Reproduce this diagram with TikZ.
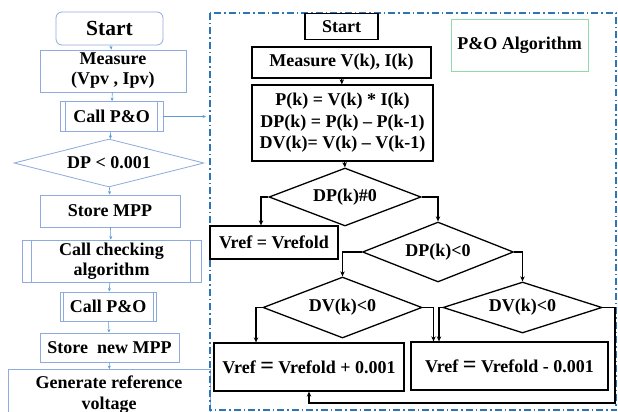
\documentclass[tikz,border=0pt]{standalone}
\usepackage{fontspec}
\setmainfont{Liberation Serif}
\usetikzlibrary{shapes.geometric,arrows.meta}
\definecolor{lblue}{HTML}{8FAADC}
\definecolor{ablue}{HTML}{5B9BD5}
\definecolor{bblue}{HTML}{2E75B6}
\definecolor{lgreen}{HTML}{92D8A8}
\tikzset{
  lbox/.style={draw=lblue, line width=0.8pt, inner sep=0pt, align=center,
    font=\bfseries\fontsize{18}{20}\selectfont},
  larrow/.style={draw=ablue, line width=0.6pt, -{Stealth[length=3.5pt,width=3pt]}},
  rbox/.style={draw=black, line width=1.3pt, inner sep=0pt, align=center,
    font=\bfseries\fontsize{18}{21.5}\selectfont},
  rdia/.style={diamond, draw=black, line width=1.3pt, inner sep=0pt, aspect=3,
    font=\bfseries\fontsize{18}{20}\selectfont},
  rarrow/.style={draw=black, line width=1.3pt, -{Stealth[length=5pt,width=4.5pt]}},
}
\begin{document}
\begin{tikzpicture}[x=1pt,y=-1pt]
\useasboundingbox (0,0) rectangle (618,412);
\clip (0,0) rectangle (618,412);
% ---------------- left column ----------------
\node[lbox, rounded corners=6pt, minimum width=107pt, minimum height=33pt,
  font=\bfseries\fontsize{21.5}{22}\selectfont] (lstart) at (109.5,28.5) {Start};
\node[lbox, minimum width=146pt, minimum height=42pt] (lmeas) at (113,71) {Measure\\(Vpv , Ipv)};
\node[lbox, minimum width=103pt, minimum height=30pt] (lcall1) at (111.5,116.5) {Call P\&O};
\draw[lblue, line width=0.6pt] ([xshift=6pt]lcall1.north west) -- ([xshift=6pt]lcall1.south west)
  ([xshift=-6pt]lcall1.north east) -- ([xshift=-6pt]lcall1.south east);
\node[lbox, diamond, aspect=4, minimum width=190pt, minimum height=48pt] (ldp) at (109,163) {DP < 0.001};
\node[lbox, minimum width=140pt, minimum height=32pt] (lstore) at (110,211) {Store MPP};
\node[lbox, minimum width=179pt, minimum height=42pt] (lcheck) at (111.5,261) {Call checking\\algorithm};
\draw[lblue, line width=0.6pt] ([xshift=10pt]lcheck.north west) -- ([xshift=10pt]lcheck.south west)
  ([xshift=-11pt]lcheck.north east) -- ([xshift=-11pt]lcheck.south east);
\node[lbox, minimum width=96pt, minimum height=29pt] (lcall2) at (108,306.5) {Call P\&O};
\draw[lblue, line width=0.6pt] ([xshift=4pt]lcall2.north west) -- ([xshift=4pt]lcall2.south west)
  ([xshift=-3pt]lcall2.north east) -- ([xshift=-3pt]lcall2.south east);
\node[lbox, minimum width=139pt, minimum height=29pt] (lnew) at (109.5,347.5) {Store~ new MPP};
\node[lbox, minimum width=202pt, minimum height=50pt, font=\bfseries\fontsize{18}{21}\selectfont] (lgen) at (109,394.5) {Generate reference\\voltage};
\draw[larrow] (lstart) -- (lmeas);
\draw[larrow] (lmeas) -- (lcall1);
\draw[larrow] (lcall1) -- (ldp);
\draw[larrow] (ldp) -- (lstore);
\draw[larrow] (lstore) -- (lcheck);
\draw[larrow] (lcheck) -- (lcall2);
\draw[larrow] (lcall2) -- (lnew);
\draw[larrow] (lnew) -- (lgen);
\coordinate (pend) at (206,116.5);
\draw[larrow, line width=0.5pt] (lcall1.east) -- (pend);
% ---------------- P&O algorithm frame ----------------
\draw[bblue, line width=1.2pt, dash pattern=on 7pt off 3pt on 1.5pt off 3pt] (210,13) rectangle (616,410);
\node[draw=lgreen, line width=1pt, minimum width=137pt, minimum height=51pt, inner sep=0pt,
  font=\bfseries\fontsize{18}{20}\selectfont] (ralg) at (519.5,45.5) {P\&O Algorithm};
\node[rbox, minimum width=73pt, minimum height=26pt] (rstart) at (341.5,26.5) {Start};
\node[rbox, minimum width=179pt, minimum height=31pt] (rmeas) at (341.5,62.5) {Measure V(k), I(k)};
\node[rbox, minimum width=181pt, minimum height=76pt] (rform) at (342.5,123)
  {P(k) = V(k) * I(k)\\DP(k) = P(k) -- P(k-1)\\DV(k)= V(k) -- V(k-1)};
\node[rdia, minimum width=152pt, minimum height=58pt] (d0) at (345,197) {DP(k)\#0};
\node[rbox, minimum width=128pt, minimum height=33pt] (rhold) at (274,242.5) {Vref = Vrefold};
\node[rdia, minimum width=151pt, minimum height=60pt] (d1) at (438,252) {DP(k)<0};
\node[rdia, minimum width=159pt, minimum height=61pt] (d2) at (342.5,307.5) {DV(k)<0};
\node[rdia, minimum width=159pt, minimum height=51pt] (d3) at (522.5,307.5) {DV(k)<0};
\node[rbox, minimum width=190pt, minimum height=48pt] (rplus) at (309,367) {Vref {\fontsize{24}{24}\selectfont=} Vrefold + 0.001};
\node[rbox, minimum width=197pt, minimum height=48pt] (rminus) at (509.5,366) {Vref {\fontsize{24}{24}\selectfont=} Vrefold - 0.001};
\draw[rarrow] (rmeas) -- (rform);
\draw[rarrow] ([xshift=2pt]rform.south) -- (d0.north);
\draw[rarrow] (d0.west) -| ([xshift=-13pt]rhold.north);
\draw[rarrow] (d0.east) -| (d1.north);
\draw[rarrow] (d1.west) -| (d2.north);
\draw[rarrow] (d1.east) -| (d3.north);
\draw[rarrow] (d2.west) -| ([xshift=-53pt]rplus.north);
\draw[rarrow] (d2.east) -| ([xshift=-76pt]rminus.north);
\draw[rarrow] (d3.west) -| ([xshift=-70.5pt]rminus.north);
\coordinate (loop) at (615,403);
\draw[rarrow] (d3.east) -| (loop) -| (rplus.south);
\end{tikzpicture}
\end{document}
